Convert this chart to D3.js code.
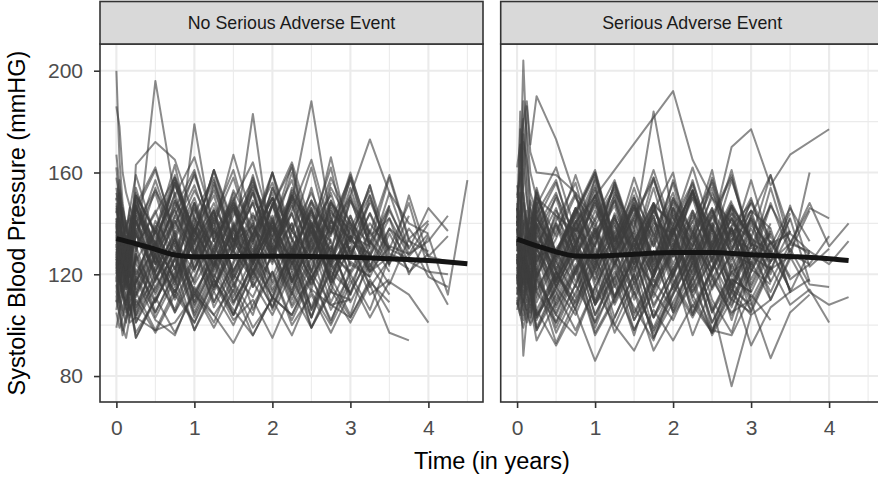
<!DOCTYPE html>
<html>
<head>
<meta charset="utf-8">
<script src="https://cdn.jsdelivr.net/npm/d3@7"></script>
<style>
  body { margin: 0; background: #ffffff; }
  svg { display: block; font-family: "Liberation Sans", Arial, Helvetica, sans-serif; }
</style>
</head>
<body>
<svg id="chart" width="878" height="479"></svg>
<script>
// Scheduled visit times (years since baseline)
const visitTimes = [0, 0.04, 0.08, 0.125, 0.17, 0.25, 0.5, 0.75, 1, 1.25, 1.5, 1.75, 2,
  2.25, 2.5, 2.75, 3, 3.25, 3.5, 3.75, 4, 4.25, 4.5];

const panelTitles = ["No Serious Adverse Event", "Serious Adverse Event"];

// Systolic blood pressure per subject, one value per visit (null = visit missed)
const noSaeSbp = [
  [200,165,148,139,142,135,128,141,122,137,129,118,134,127,146,123,135,131],
  [186,178,160,152,147,140,153,138,160,135,149,164,137,151,136,158,140],
  [142,130,124,127,119,126,196,150,132,145,121,139,127,148,118,134],
  [128,121,115,120,112,117,132,118,179,134,146,120,135,118,143,128,121,137,124],
  [135,148,131,116,143,129,154,131,117,142,128,153,126,140,114,139,126,151,128,125],
  [124,118,112,108,115,111,127,113,139,114,130,183,128,140,116,131,112,138],
  [138,152,141,125,139,146,131,157,133,148,130,156,134,149,188,141,158,133,124,151,127,135],
  [119,112,106,101,109,113,98,114,101,117,102,110,95,113,99,114,101,116,97,94],
  [131,127,122,128,119,163,172,165,142,131,147,125,139,114,130,146,123],
  [126,122,131,118,125,120,137,116,143,119,138,124,141,117,139,125,151,173,152,140,136],
  [147,139,133,128,136,130,145,122,148,121,137,154,129,144,121,136,150,127,142,120,135,112,157],
  [113,108,104,110,106,112,128,105,119,134,109,122,107,128,113,100,116,131],
  [152,146,140,134,129,147,162,135,150,128,143,157,135,160,132,148,136,151,126,143],
  [122,130,117,124,112,119,105,121,138,109,124,141,116,128,103,129,120],
  [140,133,127,121,128,144,130,156,129,143,121,136,150,128,154,125,140,122,147],
  [118,109,98,104,111,95,110,126,103,118,104,121,107,125,99,113,110],
  [133,128,122,130,125,141,127,148,132,156,133,139,160,127,145,129,154,131,146,128,133,143],
  [125,119,128,122,116,103,118,134,109,131,117,104,130,113,139,116,131],
  [167,155,146,139,133,151,136,159,135,161,138,152,127,154,140,133],
  [110,104,96,102,108,95,111,97,113,99,114,96,111,104,119,102,118,103,117,112,101],
  [136,142,134,139,131,147,124,149,136,161,133,148,125,151,138,162,127,144,129],
  [129,121,117,124,119,104,121,136,108,123,140,115,127,112,137,119,104,128,116,134,119,115],
  [145,138,131,127,134,149,132,156,133,118,139,155,141,124,148,136,160,135,142,127,136],
  [121,116,111,118,113,128,105,120,132,107,122,134,110,127,103,124,112,129],
  [158,150,143,137,145,159,134,151,166,140,158,133,147,164,139,151],
  [116,111,106,113,108,97,110,123,98,113,100,117,104,121,99,116,103,117,109],
  [131,137,129,124,132,117,141,128,146,126,131,152,129,144,121,147,133,128,152,130,146,137],
  [127,120,114,119,125,108,123,135,111,129,115,132,106,124,137,116,130,112,118],
  [139,131,146,138,132,147,124,140,155,133,148,124,141,157,129,144,138,153],
  [111,105,99,95,103,118,102,96,115,104,93,108,121,100,112,97,113],
  [124,131,125,118,126,141,117,133,121,145,119,136,152,124,139,117,143,123,138,125,121,120],
  [150,143,137,131,138,154,129,146,161,133,148,135,160,137,152,135,159,136],
  [119,126,120,114,121,106,127,112,135,118,104,126,111,131,119,101,122],
  [134,128,123,129,135,150,124,141,127,155,129,144,126,152,137,123,149,136,159,134,141],
  [127,133,126,120,128,113,131,146,122,138,118,135,150,122,141,117,135],
  [105,99,103,108,101,103,98,101,112,104,116,99,110,96,114,108,103,118,105],
  [142,136,130,135,129,137,152,127,144,158,131,149,138,163,126,145,133,155,130,148,122,108],
  [123,117,122,127,121,136,114,129,107,124,139,117,132,110,126,141,124,119],
  [130,124,135,129,123,140,125,111,138,123,146,129,154,134,118,141,126,149,130,126],
  [115,120,113,108,116,101,118,132,109,125,104,121,138,112,127,106,120,133,121],
  [162,149,141,135,130,147,132,158,135,161,140,127,154,137,162,132],
  [121,127,119,125,130,143,118,134,112,127,147,125,139,116,133,149,135,121,138,131],
  [138,130,124,131,126,112,129,145,127,141,118,133,150,130,144,129,158,130],
  [109,116,111,105,112,127,103,118,98,115,130,106,121,102,118,133,109,124,112],
  [126,119,113,121,116,131,109,126,142,115,133,121,148,117,134,113,139,119,136,121,128],
  [146,140,134,128,135,151,126,143,159,136,150,125,147,162,135],
  [132,125,120,126,131,116,137,122,148,126,113,138,124,151,126,142,129],
  [117,123,129,122,116,104,128,113,127,109,125,140,117,133,106,126,143,124],
  [135,129,124,118,125,141,121,137,116,130,149,127,143,121,134,152,128,144,124,138,127,125],
  [154,147,140,133,128,145,161,136,153,138,167,141,156,133,149,136,157],
  [113,119,114,109,116,101,115,129,104,120,108,124,111,130,106,121,113,127],
  [128,134,127,122,129,145,130,115,137,153,133,128,147,130,116,141,134,155,123],
  [99,106,112,107,103,110,97,112,101,118,106,96,111,104,121,108,110],
  [141,134,129,135,130,146,132,118,140,157,133,148,127,153,139,124,149,132,158,133,129],
  [120,126,121,115,122,137,120,106,128,113,134,119,141,125,107,128,141,121,127],
  [137,131,125,132,127,143,129,152,128,144,130,158,132,147,130,156],
  [124,117,123,118,113,128,112,127,105,122,137,115,131,108,124,139,120,106,127,122],
  [148,141,135,129,136,151,137,163,128,146,133,159,131,150,134,166,133,148],
  [111,117,123,116,121,107,119,134,113,126,109,124,140,118,103,122,131,116],
  [133,139,132,127,134,119,138,155,137,124,145,132,160,134,121,149,128,140,130],
  [131,124,136,129,121,114,133,117,140,128,152,121,138,126,145,119,134,125],
  [144,153,140,131,139,152,136,149,126,142,161,134,150,137,126,148,139],
  [118,125,111,119,104,117,131,110,125,140,116,130,113,128,146,121,133,115,126],
  [127,118,124,133,126,138,121,143,129,115,136,124,148,126,140,118,138,127,145,130],
  [106,113,118,110,115,122,109,126,114,101,120,111,128,107,119,131,112],
  [139,146,133,141,128,135,157,134,148,129,153,138,130,145,165,137,151,133],
  [122,116,128,121,110,125,139,118,133,145,120,136,114,129,149,124,135,121,131,128,140],
  [134,141,129,122,136,124,113,130,146,123,138,127,119,137,126,143,118],
  [115,109,121,114,124,136,120,105,123,138,111,127,142,117,132,109,125,119],
  [149,157,142,136,146,131,144,158,137,151,126,143,135,149,128,154,140,132,147]
];

const saeSbp = [
  [131,158,204,170,146,138,152,127,145,130,154,131,146,123,138,122],
  [142,166,180,188,171,190,173,150,139,153,128,145,160,126,143,128,124],
  [128,119,88,103,112,118,104,121,96,110,127,103,115,130,105,118,113],
  [137,184,162,149,140,154,128,146,131,156,133,148,120,145,132,157,134,129],
  [125,132,175,151,137,120,145,133,118,142,129,154,127,141,118,134,130],
  [119,124,118,126,121,127,130,null,null,null,null,null,192,165,150,140,134],
  [134,129,123,130,126,143,118,132,149,125,137,184,142,131,146,123,138,124],
  [127,121,116,123,119,125,140,117,132,149,124,140,136,151,138,170,177,155,167,null,177],
  [115,110,106,112,108,124,99,116,101,125,102,118,106,125,108,76,104,110],
  [122,117,112,118,113,99,116,131,108,123,98,114,129,112,97,124,109,87,105,112],
  [118,113,109,115,110,104,121,106,86,103,120,95,112,127,101,118,113],
  [111,106,102,108,103,119,104,96,115,100,90,106,94,108,97,113,104],
  [109,104,110,105,100,106,92,107,122,97,113,90,104,116,98,96,112,102],
  [146,139,133,128,135,150,126,143,159,131,147,134,156,125,142,158,131,147,133,128],
  [133,127,122,129,124,140,125,111,136,149,124,141,127,153,128,113,140,125,132,148,131,140],
  [124,130,125,119,126,111,128,143,117,134,150,123,138,115,131,147,122,138,113,129,124,133],
  [121,115,110,117,112,128,113,98,115,130,104,119,136,111,127,102,125,110,127,113,108,111],
  [139,145,137,131,138,153,127,144,160,132,147,124,149,136,161,126,143,159,132,146,142],
  [117,122,115,120,113,98,112,129,104,119,96,121,134,110,97,117,106,123,108,114,101],
  [126,121,127,122,116,133,118,141,126,111,134,119,146,121,138,112,135,120,147,123,130],
  [123,118,124,119,114,130,115,104,123,140,116,129,105,122,137,114,129,113,130,116,115],
  [136,130,125,131,127,142,129,115,138,123,150,136,119,144,131,116,143,128,126,160],
  [150,158,172,165,152,144,157,131,148,133,158,135,150,126,143,159,131],
  [129,136,181,158,143,136,150,127,142,157,134,119,144,131,157,130,145,122,137],
  [140,147,155,186,168,160,159,152,141,154,130,145,130,157,131,147,134],
  [118,125,120,114,121,106,121,108,124,137,112,129,105,118,133,110,125],
  [132,126,121,127,133,118,140,127,112,139,124,147,122,139,115,138,123,140],
  [114,108,104,110,105,121,97,113,128,103,120,95,109,124,101,116,92,107,113],
  [145,152,138,131,137,152,128,145,161,133,148,125,150,137,122,147,134,159,136],
  [127,132,126,121,128,113,129,146,122,135,110,127,143,119,136,108,124],
  [120,114,119,124,117,133,108,122,139,115,128,103,120,136,119,104,121,136,113,118],
  [138,132,127,133,128,144,121,136,153,129,142,157,134,120,145,132,157,131,146,133],
  [112,117,111,106,113,98,115,130,104,121,107,94,116,103,118,105,110],
  [155,148,141,135,130,147,162,137,154,129,146,131,157,134,150,133,148],
  [125,120,116,122,117,103,120,136,109,124,141,117,130,105,122,138,115,130,114],
  [131,137,131,125,132,148,122,139,155,128,144,121,136,153,129,142,127,154,129,145],
  [106,112,107,101,108,94,109,124,101,116,98,113,102,119,96,110,105,122],
  [143,136,130,136,131,146,124,139,125,152,138,121,146,133,158,135,150,125,142],
  [119,125,131,124,118,135,110,127,141,116,133,108,122,137,114,129,142,117],
  [134,128,122,128,135,119,134,151,126,142,128,115,136,153,128,144,121,137],
  [162,171,152,141,134,150,135,159,136,151,126,148,139,162,137],
  [116,121,126,119,113,128,105,122,138,111,126,143,118,104,121,136,110,125,142,117],
  [128,123,117,124,130,114,128,145,120,136,151,125,139,116,131,148,133,117,132,129],
  [141,135,129,135,130,145,122,138,131,156,133,148,124,141,156,130,145],
  [110,104,99,106,101,118,93,110,125,100,117,97,112,128,98,114,108,123],
  [122,128,122,116,123,138,115,131,109,129,146,121,138,113,126,142,118,133,119],
  [136,143,188,176,160,150,143,137,151,128,143,158,135,150,137,161,131],
  [127,121,126,132,126,140,117,132,149,124,137,113,130,145,121,138,124,147],
  [119,113,108,114,120,103,118,132,110,127,102,115,130,107,122,138,113,129,114],
  [148,141,135,130,137,152,127,144,160,133,148,126,141,156,133,149],
  [131,125,130,124,119,136,121,106,134,147,122,139,114,131,146,119,134,110,126],
  [114,120,115,109,116,131,107,123,97,111,128,103,120,135,110,97,122,116],
  [137,131,126,132,138,124,141,156,128,143,120,146,129,152,138,125,142,128],
  [124,119,113,119,124,109,126,141,115,131,105,120,138,113,129,146,116,133,118,124],
  [139,177,149,138,132,148,125,140,157,131,146,123,139,155,130,146,133],
  [121,127,122,117,124,139,115,131,108,119,136,111,128,143,125,110,127,122],
  [133,128,123,129,124,140,117,134,151,127,142,119,137,153,125,142,127,148,128,124,135],
  [117,112,118,113,107,122,101,116,131,108,124,98,113,128,106,121,111],
  [129,135,126,142,133,119,137,152,126,141,117,133,148,124,139,115,132,128,144],
  [146,138,152,135,128,141,156,132,147,124,139,161,137,152,128,144,135],
  [112,118,109,121,115,102,119,134,108,125,113,99,116,131,105,121,126],
  [135,129,141,133,146,130,117,138,124,150,128,143,119,136,154,127,141,130,137],
  [124,131,119,127,113,131,146,120,137,111,128,142,116,133,120,107,128,136],
  [141,134,148,139,131,125,143,129,158,135,121,145,131,150,126,139,148,132,136,129],
  [119,113,125,118,130,113,101,121,136,109,127,115,132,104,123,139,113],
  [151,160,144,137,149,142,128,146,134,155,131,147,140,127,152,136,145,138],
  [126,120,132,124,118,136,121,109,127,143,118,134,107,125,140,116,131,122,127],
  [133,126,138,145,131,122,139,126,151,129,114,137,152,128,145,121,136],
  [108,115,121,112,118,104,114,127,99,118,132,107,122,96,115,128,105],
  [138,131,127,136,142,129,151,135,122,144,130,158,132,118,140,129,149,134]
];

// Smoothed group means
const smoothTimesNoSae = [0, 0.25, 0.5, 0.75, 1, 1.5, 2, 2.5, 3, 3.5, 4, 4.25, 4.5];
const smoothNoSae = [134.0, 132.0, 129.8, 127.6, 126.9, 127.0, 127.1, 127.0, 126.7, 126.1, 125.4, 124.8, 124.1];
const smoothTimesSae = [0, 0.25, 0.5, 0.75, 1, 1.5, 2, 2.5, 3, 3.5, 4, 4.25];
const smoothSae = [133.8, 131.2, 128.8, 127.2, 127.1, 127.9, 128.6, 128.6, 127.7, 127.0, 126.1, 125.4];

const xTicks = [0, 1, 2, 3, 4];
const xMinor = [0.5, 1.5, 2.5, 3.5, 4.5];
const yTicks = [80, 120, 160, 200];
const yMinor = [100, 140, 180];

const panels = [
  { title: panelTitles[0], subjects: noSaeSbp, sx: smoothTimesNoSae, sy: smoothNoSae },
  { title: panelTitles[1], subjects: saeSbp, sx: smoothTimesSae, sy: smoothSae }
];

const svg = d3.select("#chart");
const panelW = 383, plotTop = 44, plotBottom = 402, stripTop = 1.5;
const panelLefts = [100, 500.7];

const x = d3.scaleLinear().domain([-0.21, 4.70]).range([0, panelW]);
const y = d3.scaleLinear().domain([69.8, 210.5]).range([plotBottom, plotTop]);

const line = d3.line().x(d => x(d[0])).y(d => y(d[1]));
const smoothLine = d3.line().x(d => x(d[0])).y(d => y(d[1])).curve(d3.curveMonotoneX);

panels.forEach((p, i) => {
  const g = svg.append("g").attr("transform", `translate(${panelLefts[i]},0)`);
  const clipId = "clip" + i;
  g.append("clipPath").attr("id", clipId)
    .append("rect").attr("x", 0).attr("y", plotTop).attr("width", panelW).attr("height", plotBottom - plotTop);

  const grid = g.append("g");
  grid.selectAll(".yminor").data(yMinor).join("line")
    .attr("x1", 0).attr("x2", panelW).attr("y1", d => y(d)).attr("y2", d => y(d))
    .attr("stroke", "#ebebeb").attr("stroke-width", 1.1);
  grid.selectAll(".xminor").data(xMinor).join("line")
    .attr("x1", d => x(d)).attr("x2", d => x(d)).attr("y1", plotTop).attr("y2", plotBottom)
    .attr("stroke", "#ebebeb").attr("stroke-width", 1.1);
  grid.selectAll(".ymajor").data(yTicks).join("line")
    .attr("x1", 0).attr("x2", panelW).attr("y1", d => y(d)).attr("y2", d => y(d))
    .attr("stroke", "#ebebeb").attr("stroke-width", 2.1);
  grid.selectAll(".xmajor").data(xTicks).join("line")
    .attr("x1", d => x(d)).attr("x2", d => x(d)).attr("y1", plotTop).attr("y2", plotBottom)
    .attr("stroke", "#ebebeb").attr("stroke-width", 2.1);

  const plot = g.append("g").attr("clip-path", `url(#${clipId})`);
  plot.selectAll(".subject").data(p.subjects).join("path")
    .attr("fill", "none")
    .attr("stroke", "#3d3d3d")
    .attr("stroke-opacity", 0.6)
    .attr("stroke-width", 2)
    .attr("stroke-linejoin", "round")
    .attr("d", vals => line(vals.map((v, k) => [visitTimes[k], v]).filter(d => d[1] != null)));

  plot.append("path")
    .attr("fill", "none")
    .attr("stroke", "#141414")
    .attr("stroke-width", 5)
    .attr("d", smoothLine(p.sx.map((t, k) => [t, p.sy[k]])));

  // panel border
  g.append("rect").attr("x", 0).attr("y", plotTop).attr("width", panelW).attr("height", plotBottom - plotTop)
    .attr("fill", "none").attr("stroke", "#333333").attr("stroke-width", 1.6);

  // strip
  g.append("rect").attr("x", 0).attr("y", stripTop).attr("width", panelW).attr("height", plotTop - stripTop)
    .attr("fill", "#d9d9d9").attr("stroke", "#333333").attr("stroke-width", 1.6);
  g.append("text").attr("x", panelW / 2).attr("y", (stripTop + plotTop) / 2).attr("dy", "0.35em")
    .attr("text-anchor", "middle").attr("font-size", 17.8).attr("fill", "#1a1a1a").text(p.title);

  // x axis
  const xa = g.append("g").attr("transform", `translate(0,${plotBottom})`)
    .call(d3.axisBottom(x).tickValues(xTicks).tickSize(6).tickPadding(12).tickFormat(d3.format("d")));
  xa.select(".domain").remove();
  xa.selectAll(".tick line").attr("stroke", "#333333").attr("stroke-width", 1.6);
  xa.selectAll(".tick text").attr("fill", "#4d4d4d").attr("font-size", 21).attr("font-family", null);

  if (i === 0) {
    const ya = g.append("g")
      .call(d3.axisLeft(y).tickValues(yTicks).tickSize(6).tickPadding(11).tickFormat(d3.format("d")));
    ya.select(".domain").remove();
    ya.selectAll(".tick line").attr("stroke", "#333333").attr("stroke-width", 1.6);
    ya.selectAll(".tick text").attr("fill", "#4d4d4d").attr("font-size", 21).attr("font-family", null);
  }
});

// axis titles
svg.append("text").attr("x", (panelLefts[0] + panelLefts[1] + panelW) / 2).attr("y", 469)
  .attr("text-anchor", "middle").attr("font-size", 23.5).attr("fill", "#000").text("Time (in years)");
svg.append("text").attr("transform", `translate(25,${(plotTop + plotBottom) / 2}) rotate(-90)`)
  .attr("text-anchor", "middle").attr("font-size", 23.5).attr("fill", "#000")
  .text("Systolic Blood Pressure (mmHG)");
</script>
</body>
</html>
